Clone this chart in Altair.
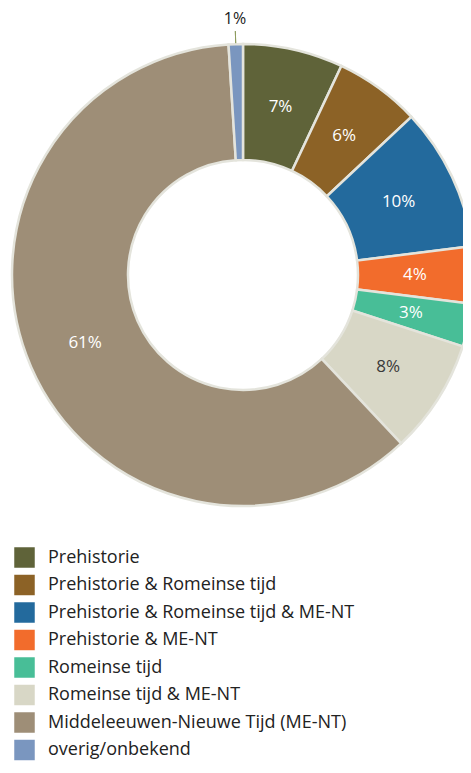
import altair as alt
import pandas as pd

categories = [
    "Prehistorie",
    "Prehistorie & Romeinse tijd",
    "Prehistorie & Romeinse tijd & ME-NT",
    "Prehistorie & ME-NT",
    "Romeinse tijd",
    "Romeinse tijd & ME-NT",
    "Middeleeuwen-Nieuwe Tijd (ME-NT)",
    "overig/onbekend",
]
values = [7, 6, 10, 4, 3, 8, 61, 1]
labels = ["7%", "6%", "10%", "4%", "3%", "8%", "61%", "1%"]
colors = ["#5f6339", "#8c6226", "#236a9d", "#f26c2c", "#48be97", "#d8d7c6", "#9e8e77", "#7a96bf"]
label_colors = ["#ffffff", "#ffffff", "#ffffff", "#ffffff", "#ffffff", "#3a3a3a", "#ffffff", "#1a1a1a"]

OUTSIDE = "overig/onbekend"

df = pd.DataFrame({
    "cat": categories,
    "value": values,
    "idx": list(range(len(categories))),
    "label": labels,
    "lcol": label_colors,
})
df["inner"] = [l if c != OUTSIDE else "" for c, l in zip(categories, labels)]
df["outer"] = [l if c == OUTSIDE else "" for c, l in zip(categories, labels)]

CX, CY = 235, 267
FONT = "Open Sans"

base = alt.Chart(df).encode(
    theta=alt.Theta("value:Q", stack=True),
    order=alt.Order("idx:Q"),
    x=alt.value(CX),
    y=alt.value(CY),
)

arcs = base.mark_arc(innerRadius=115, outerRadius=231, stroke="#e4e4dc", strokeWidth=2.5).encode(
    color=alt.Color(
        "cat:N",
        sort=categories,
        scale=alt.Scale(domain=categories, range=colors),
        legend=alt.Legend(
            title=None,
            orient="none",
            legendX=6,
            legendY=539,
            direction="vertical",
            symbolType="square",
            symbolSize=420,
            symbolStrokeWidth=0,
            symbolOpacity=1,
            labelFont=FONT,
            labelFontSize=18,
            labelColor="#222222",
            labelOffset=13,
            rowPadding=6.5,
            labelLimit=440,
        ),
    )
)

leader = base.mark_arc(innerRadius=232, outerRadius=244, padAngle=0.1, fillOpacity=0, strokeWidth=1).encode(
    stroke=alt.condition(alt.datum.cat == OUTSIDE, alt.value("#8e9c5e"), alt.value("transparent"))
)

inner_text = base.mark_text(radius=172, font=FONT, fontSize=17, align="center", baseline="middle").encode(
    text="inner:N",
    color=alt.Color("lcol:N", scale=None),
)

outer_text = base.mark_text(radius=256, font=FONT, fontSize=16, align="center", baseline="middle").encode(
    text="outer:N",
    color=alt.value("#1a1a1a"),
)

chart = alt.layer(arcs, leader, inner_text, outer_text).properties(
    width=455,
    height=757,
    autosize=alt.AutoSizeParams(type="none"),
    padding=0,
).configure_view(stroke=None)

chart.save("out.html", embed_options={"renderer": "svg", "actions": False})
